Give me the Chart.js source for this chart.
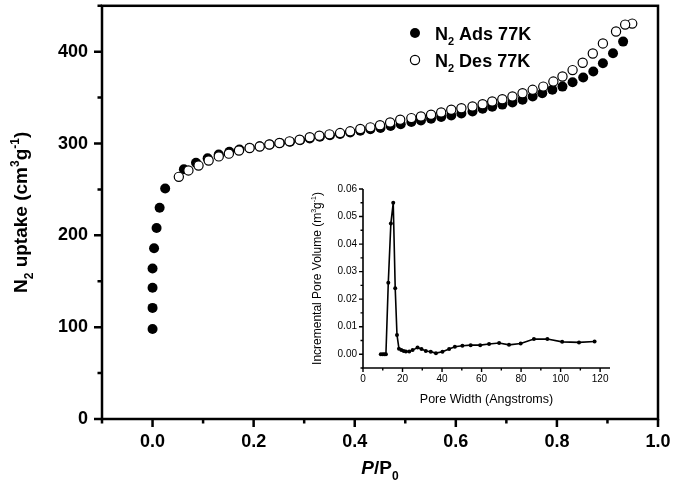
<!DOCTYPE html>
<html>
<head>
<meta charset="utf-8">
<script src="https://cdn.jsdelivr.net/npm/chart.js@4.4.1/dist/chart.umd.min.js"></script>
<style>
html, body { margin: 0; padding: 0; background: #fff; }
#wrap { position: relative; width: 673px; height: 492px; }
#main { position: absolute; left: 0; top: 0; }
#inset { position: absolute; left: 290px; top: 170px; }
</style>
</head>
<body>
<div id="wrap">
  <canvas id="main" width="673" height="492"></canvas>
  <canvas id="inset" width="340" height="250"></canvas>
</div>
<script>
// N2 isotherm at 77K
const adsP = [0.000, 0.000, 0.000, 0.000, 0.003, 0.008, 0.014, 0.025, 0.062, 0.086, 0.109, 0.131, 0.152, 0.172,
    0.192, 0.212, 0.232, 0.252, 0.272, 0.292, 0.311, 0.331, 0.351, 0.371, 0.391, 0.411, 0.431, 0.451, 0.471, 0.491,
    0.512, 0.531, 0.551, 0.571, 0.591, 0.611, 0.633, 0.653, 0.672, 0.692, 0.712, 0.732, 0.752, 0.771, 0.791, 0.811,
    0.831, 0.852, 0.872, 0.891, 0.911, 0.931];
const adsV = [98, 121, 143, 164, 186, 208, 230, 251, 272, 279, 284, 288, 291, 293.5,
    295.5, 297, 299, 300.5, 302, 303.5, 305.5, 307.5, 309, 310.5, 312, 314, 315.5, 317, 319, 321,
    323.5, 325, 327, 328.8, 330.6, 332.8, 335, 338, 340, 342.4, 344.8, 347.7, 351.2, 354.8, 358.5, 362,
    366.8, 371.9, 378.4, 387.4, 398.3, 411];
const desP = [0.949, 0.935, 0.917, 0.891, 0.871, 0.851, 0.831, 0.811, 0.793, 0.773, 0.752, 0.732, 0.712, 0.692,
    0.672, 0.653, 0.633, 0.611, 0.591, 0.571, 0.551, 0.531, 0.512, 0.490, 0.470, 0.450, 0.431, 0.411, 0.391, 0.371,
    0.350, 0.330, 0.311, 0.291, 0.271, 0.251, 0.231, 0.212, 0.192, 0.171, 0.151, 0.131, 0.111, 0.091, 0.071, 0.052];
const desV = [430.6, 429.5, 422, 409, 398, 388, 380, 373, 367.5, 362, 358.5, 354.8, 351.2, 348.3,
    345.8, 342.9, 340.4, 338.5, 336.8, 333.9, 331.4, 329.5, 327.7, 326, 323, 320, 317.6, 315.8, 313.3, 311.4,
    310, 308.6, 306.8, 304.2, 302.4, 300.6, 298.9, 296.7, 295, 292.4, 289, 286, 281.5, 276, 270.7, 263.7];

// inset: pore size distribution
const poreWidth = [9.0, 10.0, 10.8, 11.6, 12.8, 14.1, 15.3, 16.3, 17.2, 18.2, 19.4, 20.6, 21.7, 23.4, 25.1, 27.6,
    29.6, 31.8, 34.3, 36.9, 40.2, 43.6, 46.5, 50.3, 54.5, 59.3, 63.8, 68.9, 73.9, 79.8, 86.5, 93.3, 100.8, 109.3, 117.2];
const poreVolume = [0, 0, 0, 0, 0.026, 0.0475, 0.055, 0.024, 0.007, 0.002, 0.0015, 0.0012, 0.001, 0.001, 0.0015, 0.0024,
    0.0019, 0.0012, 0.0009, 0.0004, 0.0009, 0.0019, 0.0027, 0.0031, 0.0033, 0.0033, 0.0037, 0.0041, 0.0034, 0.0039,
    0.0055, 0.0055, 0.0045, 0.0043, 0.0046];

// tick labels
const mainXTicks = [0.0, 0.2, 0.4, 0.6, 0.8, 1.0];
const mainYTicks = [0, 100, 200, 300, 400];
const insetXTicks = [0, 20, 40, 60, 80, 100, 120];
const insetYTicks = [0.00, 0.01, 0.02, 0.03, 0.04, 0.05, 0.06];

const FONT = '"Liberation Sans", Arial, Helvetica, sans-serif';

function fontFor(mode, size, weight) {
    let s = (mode === 'sub' || mode === 'sup') ? Math.round(size * 0.62) : size;
    let st = mode === 'it' ? 'italic ' : '';
    return st + weight + ' ' + s + 'px ' + FONT;
}

// draws text with sub/superscripts, parts = [[text, mode], ...]
function drawRich(ctx, parts, x, y, size, weight, align) {
    ctx.save();
    ctx.fillStyle = '#000';
    ctx.textAlign = 'left';
    ctx.textBaseline = 'alphabetic';
    let w = 0;
    parts.forEach(p => {
        ctx.font = fontFor(p[1], size, weight);
        w += ctx.measureText(p[0]).width;
    });
    let cx = align === 'center' ? x - w / 2 : x;
    parts.forEach(p => {
        ctx.font = fontFor(p[1], size, weight);
        let dy = p[1] === 'sub' ? size * 0.3 : (p[1] === 'sup' ? -size * 0.4 : 0);
        ctx.fillText(p[0], cx, y + dy);
        cx += ctx.measureText(p[0]).width;
    });
    ctx.restore();
}

// major ticks from the label list, minor ticks halfway between
function drawTicks(ctx, scale, majors, horizontal, major, minor, lw) {
    let step = majors[1] - majors[0];
    let vals = [];
    for (let i = 0; i < majors.length; i++) {
        vals.push([majors[i], major]);
        vals.push([majors[i] + step / 2, minor]);
    }
    vals.push([majors[0] - step / 2, minor]);
    ctx.save();
    ctx.strokeStyle = '#000';
    ctx.lineWidth = lw;
    ctx.beginPath();
    vals.forEach(v => {
        if (v[0] < scale.min - 1e-9 || v[0] > scale.max + 1e-9) return;
        let p = scale.getPixelForValue(v[0]);
        if (horizontal) {
            ctx.moveTo(p, scale.top);
            ctx.lineTo(p, scale.top + v[1]);
        } else {
            ctx.moveTo(scale.right, p);
            ctx.lineTo(scale.right - v[1], p);
        }
    });
    ctx.stroke();
    ctx.restore();
}

// fixed axis sizes, no extra label padding added by the layout
function fixSize(prop, px) {
    return s => {
        s[prop] = px;
        s.paddingTop = 0;
        s.paddingBottom = 0;
        s.paddingLeft = 0;
        s.paddingRight = 0;
    };
}

const mainDecor = {
    id: 'mainDecor',
    afterDraw(chart) {
        const ctx = chart.ctx;
        const a = chart.chartArea;
        ctx.save();
        ctx.strokeStyle = '#000';
        ctx.lineWidth = 2.5;
        ctx.strokeRect(a.left, a.top, a.right - a.left, a.bottom - a.top);
        ctx.restore();
        drawTicks(ctx, chart.scales.x, mainXTicks, true, 8, 4.5, 2.5);
        drawTicks(ctx, chart.scales.y, mainYTicks, false, 8, 4.5, 2.5);

        // axis titles
        drawRich(ctx, [['P', 'it'], ['/P', ''], ['0', 'sub']], (a.left + a.right) / 2, 474, 19, 'bold', 'center');
        ctx.save();
        ctx.translate(27, (a.top + a.bottom) / 2);
        ctx.rotate(-Math.PI / 2);
        drawRich(ctx, [['N', ''], ['2', 'sub'], [' uptake (cm', ''], ['3', 'sup'], ['g', ''], ['-1', 'sup'], [')', '']],
            0, 0, 19, 'bold', 'center');
        ctx.restore();

        // legend
        ctx.save();
        ctx.lineWidth = 1.2;
        ctx.strokeStyle = '#000';
        ctx.fillStyle = '#000';
        ctx.beginPath();
        ctx.arc(415, 33, 5, 0, Math.PI * 2);
        ctx.fill();
        ctx.fillStyle = '#fff';
        ctx.beginPath();
        ctx.arc(415, 60, 4.6, 0, Math.PI * 2);
        ctx.fill();
        ctx.stroke();
        ctx.restore();
        drawRich(ctx, [['N', ''], ['2', 'sub'], [' Ads 77K', '']], 435, 39.5, 18, 'bold', 'left');
        drawRich(ctx, [['N', ''], ['2', 'sub'], [' Des 77K', '']], 435, 66.5, 18, 'bold', 'left');
    }
};

const mainCanvas = document.getElementById('main');
let mainChart = new Chart(mainCanvas, {
    type: 'scatter',
    data: {
        datasets: [{
            label: 'N2 Ads 77K',
            data: adsP.map((p, i) => ({ x: p, y: adsV[i] })),
            pointRadius: 5,
            pointBackgroundColor: '#000',
            pointBorderColor: '#000',
            pointBorderWidth: 0,
            order: 2
        }, {
            label: 'N2 Des 77K',
            data: desP.map((p, i) => ({ x: p, y: desV[i] })),
            pointRadius: 4.6,
            pointBackgroundColor: '#fff',
            pointBorderColor: '#000',
            pointBorderWidth: 1.2,
            order: 1
        }]
    },
    options: {
        responsive: false,
        animation: false,
        layout: { padding: { top: 3, right: 15, left: 0, bottom: 0 } },
        plugins: { legend: { display: false }, tooltip: { enabled: false } },
        scales: {
            x: {
                type: 'linear',
                min: -0.1,
                max: 1.0,
                afterBuildTicks: s => { s.ticks = mainXTicks.map(v => ({ value: v })); },
                afterFit: fixSize('height', 73),
                ticks: {
                    callback: v => Number(v).toFixed(1),
                    font: { family: FONT, size: 18, weight: 'bold' },
                    color: '#000',
                    padding: 12,
                    maxRotation: 0,
                    autoSkip: false
                },
                grid: { display: false, drawTicks: false },
                border: { display: false }
            },
            y: {
                min: 0,
                max: 450,
                afterBuildTicks: s => { s.ticks = mainYTicks.map(v => ({ value: v })); },
                afterFit: fixSize('width', 102),
                ticks: {
                    callback: v => String(v),
                    font: { family: FONT, size: 18, weight: 'bold' },
                    color: '#000',
                    padding: 14,
                    autoSkip: false
                },
                grid: { display: false, drawTicks: false },
                border: { display: false }
            }
        }
    },
    plugins: [mainDecor]
});

const insetDecor = {
    id: 'insetDecor',
    afterDraw(chart) {
        const ctx = chart.ctx;
        const a = chart.chartArea;
        ctx.save();
        ctx.strokeStyle = '#000';
        ctx.lineWidth = 1.6;
        ctx.beginPath();
        ctx.moveTo(a.left, a.top);
        ctx.lineTo(a.left, a.bottom);
        ctx.lineTo(a.right, a.bottom);
        ctx.stroke();
        ctx.restore();
        drawTicks(ctx, chart.scales.x, insetXTicks, true, 4, 2.5, 1.4);
        drawTicks(ctx, chart.scales.y, insetYTicks, false, 4, 2.5, 1.4);
        drawRich(ctx, [['Pore Width (Angstroms)', '']], (a.left + a.right) / 2, 233, 12.5, '', 'center');
        ctx.save();
        ctx.translate(31, (a.top + a.bottom) / 2);
        ctx.rotate(-Math.PI / 2);
        drawRich(ctx, [['Incremental Pore Volume (m', ''], ['3', 'sup'], ['g', ''], ['-1', 'sup'], [')', '']],
            0, 0, 12, '', 'center');
        ctx.restore();
    }
};

const insetCanvas = document.getElementById('inset');
let insetChart = new Chart(insetCanvas, {
    type: 'scatter',
    data: {
        datasets: [{
            data: poreWidth.map((w, i) => ({ x: w, y: poreVolume[i] })),
            showLine: true,
            borderColor: '#000',
            borderWidth: 1.6,
            pointRadius: 2,
            pointBackgroundColor: '#000',
            pointBorderWidth: 0,
            tension: 0
        }]
    },
    options: {
        responsive: false,
        animation: false,
        layout: { padding: { top: 19, right: 20, left: 0, bottom: 0 } },
        plugins: { legend: { display: false }, tooltip: { enabled: false } },
        scales: {
            x: {
                type: 'linear',
                min: 0,
                max: 125,
                afterBuildTicks: s => { s.ticks = insetXTicks.map(v => ({ value: v })); },
                afterFit: fixSize('height', 52),
                ticks: {
                    callback: v => String(v),
                    font: { family: FONT, size: 10 },
                    color: '#000',
                    padding: 5,
                    maxRotation: 0,
                    autoSkip: false
                },
                grid: { display: false, drawTicks: false },
                border: { display: false }
            },
            y: {
                min: -0.005,
                max: 0.06,
                afterBuildTicks: s => { s.ticks = insetYTicks.map(v => ({ value: v })); },
                afterFit: fixSize('width', 73),
                ticks: {
                    callback: v => Number(v).toFixed(2),
                    font: { family: FONT, size: 10 },
                    color: '#000',
                    padding: 6,
                    autoSkip: false
                },
                grid: { display: false, drawTicks: false },
                border: { display: false }
            }
        }
    },
    plugins: [insetDecor]
});
</script>
</body>
</html>
